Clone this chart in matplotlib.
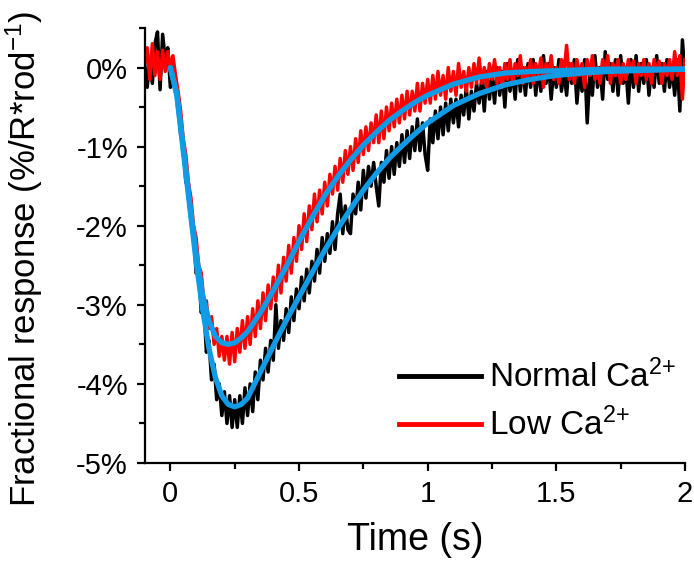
import numpy as np
import matplotlib
matplotlib.use("Agg")
from matplotlib import pyplot as plt
from matplotlib.ticker import FuncFormatter, MultipleLocator
from matplotlib.lines import Line2D

plt.rcParams['font.family'] = ['Liberation Sans', 'DejaVu Sans']
plt.rcParams['mathtext.fontset'] = 'custom'
plt.rcParams['mathtext.rm'] = 'Liberation Sans'
plt.rcParams['mathtext.it'] = 'Liberation Sans:italic'
plt.rcParams['axes.unicode_minus'] = False

# recorded traces, sampled every 10 ms from -0.1 s to 2.0 s (values in %)
t = np.round(np.arange(-0.1, 2.0001, 0.01), 2)

normal_ca = [
    0.05, -0.25, 0.1, -0.2, 0.3, 0.45, -0.28, 0.42, 0.1, 0.25,
    -0.25, 0.1, -0.3, -0.4, -0.85, -0.95, -1.45, -1.5, -1.95, -2.05,
    -2.6, -2.55, -3.1, -3.0, -3.6, -3.45, -3.95, -3.75, -4.2, -4.0,
    -4.4, -4.1, -4.5, -4.15, -4.55, -4.2, -4.55, -4.15, -4.5, -4.05,
    -4.4, -4.0, -4.35, -3.85, -4.2, -3.7, -3.95, -3.55, -3.85, -3.45,
    -3.7, -3.0, -3.55, -3.2, -3.45, -3.05, -3.35, -2.9, -3.2, -2.8,
    -3.05, -2.65, -2.95, -2.55, -2.85, -2.45, -2.7, -2.3, -2.6, -2.15,
    -2.45, -2.1, -2.35, -1.95, -2.3, -1.85, -1.6, -2.1, -1.75, -2.05,
    -2.1, -1.6, -1.85, -1.45, -1.8, -1.3, -1.65, -1.25, -1.5, -1.2,
    -1.5, -1.75, -1.2, -1.45, -1.05, -1.4, -1.0, -1.35, -0.95, -1.25,
    -0.85, -1.2, -0.8, -1.15, -0.75, -1.05, -0.65, -1.05, -0.7, -1.1,
    -1.3, -0.65, -0.95, -0.55, -0.9, -0.5, -0.85, -0.45, -0.8, -0.4,
    -0.7, -0.4, -0.75, -0.35, -0.6, -0.25, -0.65, -0.3, -0.55, -0.2,
    -0.45, -0.15, -0.55, -0.05, -0.4, -0.1, -0.45, 0.0, -0.35, -0.05,
    -0.5, 0.05, -0.3, -0.05, -0.4, 0.1, -0.3, 0.0, -0.35, 0.05,
    -0.25, 0.1, -0.35, 0.0, -0.3, 0.15, -0.2, 0.05, -0.4, 0.0,
    -0.25, 0.1, -0.3, -0.05, -0.35, 0.05, -0.2, 0.1, -0.45, -0.05,
    -0.3, 0.1, -0.7, -0.1, -0.35, 0.15, -0.25, 0.0, -0.4, 0.2,
    -0.15, 0.05, -0.3, 0.1, -0.35, 0.15, -0.2, 0.0, -0.45, 0.1,
    -0.25, 0.15, -0.3, 0.05, -0.2, 0.1, -0.35, 0.0, -0.25, 0.15,
    -0.2, 0.05, -0.3, 0.1, -0.25, 0.0, -0.35, 0.1, -0.55, 0.35,
    -0.1,
]

low_ca = [
    0.05, 0.25, -0.15, 0.3, -0.1, 0.2, -0.15, 0.22, -0.05, 0.2,
    0.0, 0.15, -0.1, -0.3, -0.55, -0.9, -1.1, -1.45, -1.65, -2.0,
    -2.15, -2.5, -2.6, -2.95, -2.95, -3.3, -3.15, -3.5, -3.3, -3.65,
    -3.4, -3.7, -3.4, -3.75, -3.35, -3.72, -3.3, -3.6, -3.2, -3.55,
    -3.15, -3.5, -3.05, -3.4, -2.95, -3.3, -2.85, -3.2, -2.75, -3.05,
    -2.65, -2.95, -2.5, -2.85, -2.4, -2.7, -2.25, -2.6, -2.15, -2.45,
    -2.0, -2.3, -1.85, -2.2, -1.75, -2.05, -1.6, -1.95, -1.55, -1.85,
    -1.45, -1.75, -1.35, -1.6, -1.25, -1.55, -1.15, -1.45, -1.05, -1.35,
    -1.0, -1.3, -0.9, -1.2, -0.8, -1.1, -0.75, -1.05, -0.7, -0.95,
    -0.6, -0.95, -0.55, -0.9, -0.5, -0.8, -0.45, -0.75, -0.4, -0.7,
    -0.35, -0.65, -0.3, -0.6, -0.3, -0.55, -0.2, -0.55, -0.2, -0.45,
    -0.15, -0.45, -0.1, -0.4, -0.05, -0.35, -0.1, -0.4, 0.0, -0.3,
    -0.05, -0.35, 0.05, -0.25, -0.05, -0.3, 0.0, -0.25, 0.05, -0.2,
    0.12, -0.2, 0.0, -0.25, 0.05, -0.15, 0.1, -0.2, 0.0, -0.25,
    0.05, -0.15, 0.1, -0.2, 0.05, -0.1, 0.15, -0.2, 0.0, -0.15,
    0.1, -0.2, 0.05, -0.1, 0.12, -0.25, 0.05, -0.1, 0.15, -0.15,
    0.0, -0.2, 0.1, -0.05, 0.28, -0.15, 0.05, -0.2, 0.1, -0.1,
    0.05, -0.25, 0.1, -0.1, 0.15, -0.15, 0.0, -0.2, 0.1, -0.05,
    0.15, -0.2, 0.05, -0.1, 0.1, -0.2, 0.05, -0.15, 0.1, -0.05,
    0.08, -0.2, 0.05, -0.1, 0.1, -0.15, 0.05, -0.2, 0.1, -0.05,
    0.08, -0.2, 0.05, -0.1, 0.1, -0.15, 0.2, -0.1, 0.15, -0.4,
    0.1,
]

# fitted curves
fit_t = [0, 0.025, 0.05, 0.075, 0.1, 0.125, 0.15, 0.175, 0.2, 0.225, 0.25,
         0.275, 0.3, 0.35, 0.4, 0.45, 0.5, 0.55, 0.6, 0.65, 0.7, 0.75, 0.8,
         0.85, 0.9, 0.95, 1.0, 1.1, 1.2, 1.3, 1.4, 1.5, 1.6, 1.7, 1.8, 1.9, 2.0]
fit_normal = [0, -0.35, -1.05, -1.75, -2.45, -3.05, -3.55, -3.92, -4.15, -4.26,
              -4.29, -4.26, -4.18, -3.85, -3.52, -3.2, -2.9, -2.6, -2.31, -2.04,
              -1.79, -1.55, -1.34, -1.15, -0.99, -0.84, -0.7, -0.48, -0.33,
              -0.22, -0.15, -0.1, -0.07, -0.05, -0.04, -0.03, -0.02]
fit_low = [0, -0.33, -1.0, -1.7, -2.35, -2.87, -3.2, -3.4, -3.48, -3.5,
           -3.48, -3.42, -3.34, -3.1, -2.82, -2.52, -2.2, -1.9, -1.62, -1.38,
           -1.17, -0.98, -0.82, -0.67, -0.55, -0.44, -0.35, -0.21, -0.12,
           -0.07, -0.05, -0.04, -0.03, -0.02, -0.02, -0.02, -0.02]

fig = plt.figure(figsize=(6.94, 5.62), dpi=100)
ax = fig.add_axes([0.2084, 0.1762, 0.7786, 0.774])

ax.plot(t, normal_ca, color='black', lw=2.5)
ax.plot(t, low_ca, color='#ff0000', lw=2.5)
ax.plot(fit_t, fit_normal, color='#0f9be6', lw=3.8, solid_capstyle='round')
ax.plot(fit_t, fit_low, color='#0f9be6', lw=3.8, solid_capstyle='round')

ax.set_xlim(-0.1, 2.0)
ax.set_ylim(-5.0, 0.5)
ax.xaxis.set_major_locator(MultipleLocator(0.5))
ax.xaxis.set_minor_locator(MultipleLocator(0.25))
ax.yaxis.set_major_locator(MultipleLocator(1))
ax.yaxis.set_minor_locator(MultipleLocator(0.5))
ax.xaxis.set_major_formatter(FuncFormatter(lambda v, p: '%g' % v))
ax.yaxis.set_major_formatter(FuncFormatter(lambda v, p: '%d%%' % round(v)))

for s in ['top', 'right']:
    ax.spines[s].set_visible(False)
for s in ['left', 'bottom']:
    ax.spines[s].set_linewidth(1.6)
ax.tick_params(which='major', direction='out', length=6, width=1.6, labelsize=21, pad=6)
ax.tick_params(which='minor', direction='out', length=4, width=1.6)

ax.set_xlabel('Time (s)', fontsize=27, labelpad=10)
ax.set_ylabel('Fractional response (%/R*rod$^{-1}$)', fontsize=25)
ax.yaxis.set_label_coords(-0.184, 0.47)

handles = [Line2D([], [], color='black', lw=3.5), Line2D([], [], color='#ff0000', lw=3.5)]
ax.legend(handles, ['Normal Ca$^{2{+}}$', 'Low Ca$^{2{+}}$'], loc='upper left',
          bbox_to_anchor=(0.44, 0.275), frameon=False, fontsize=24,
          handlelength=2.46, handletextpad=0.24, labelspacing=0.4, borderpad=0)

fig.savefig('out.png', dpi=100)
